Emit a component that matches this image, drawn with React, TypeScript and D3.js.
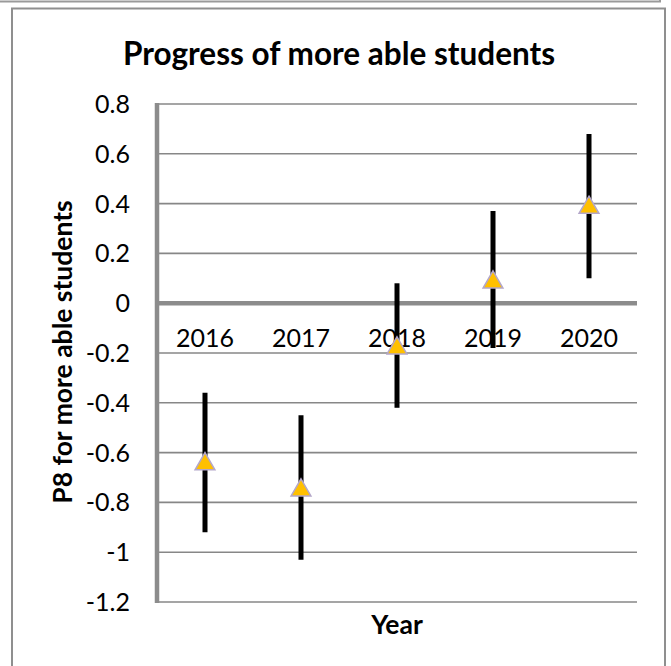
import React from "react";
import * as d3 from "d3";

const years = ["2016", "2017", "2018", "2019", "2020"];
const p8Values = [-0.64, -0.745, -0.175, 0.09, 0.39];
const lowerBounds = [-0.92, -1.03, -0.42, -0.18, 0.1];
const upperBounds = [-0.36, -0.45, 0.08, 0.37, 0.68];
const yTicks = [0.8, 0.6, 0.4, 0.2, 0, -0.2, -0.4, -0.6, -0.8, -1, -1.2];

const FONT = "Lato, 'Open Sans', sans-serif";

export default function App() {
  const W = 671;
  const H = 666;
  const x = d3.scaleBand<string>().domain(years).range([157, 637]);
  const y = d3.scaleLinear().domain([-1.2, 0.8]).range([602, 104]);
  const bw = x.bandwidth();
  const tri = d3.symbol().type(d3.symbolTriangle).size(170)();

  return (
    <svg
      width={W}
      height={H}
      style={{ position: "absolute", left: 0, top: 0, background: "#fff" }}
    >
      {/* outer frame pieces */}
      <rect x={-10} y={-100} width={670} height={101.5} fill="none" stroke="#9a9a9a" strokeWidth={2} />
      <rect x={12} y={8.5} width={653} height={700} fill="#fff" stroke="#8f8f8f" strokeWidth={2} />

      {/* title */}
      <text x={339} y={65} textAnchor="middle" fontFamily={FONT} fontWeight={700} fontSize={31.5} fill="#000">
        Progress of more able students
      </text>

      {/* gridlines */}
      {yTicks.filter((t) => t !== 0).map((t) => (
        <line key={t} x1={157} x2={637} y1={y(t)} y2={y(t)} stroke="#878787" strokeWidth={1.6} />
      ))}

      {/* y tick labels */}
      {yTicks.map((t) => (
        <text key={"l" + t} x={130} y={y(t)} dy="0.36em" textAnchor="end" fontFamily={FONT} fontSize={25} fill="#000">
          {String(t)}
        </text>
      ))}

      {/* left axis */}
      <line x1={157} x2={157} y1={y(0.8) - 1} y2={y(-1.2) + 1} stroke="#8c8c8c" strokeWidth={4.5} />

      {/* category labels */}
      {years.map((yr) => (
        <text key={"c" + yr} x={(x(yr) as number) + bw / 2} y={347} textAnchor="middle" fontFamily={FONT} fontSize={25} fill="#000">
          {yr}
        </text>
      ))}

      {/* zero axis line */}
      <line x1={157} x2={637} y1={y(0)} y2={y(0)} stroke="#8c8c8c" strokeWidth={4.5} />

      {/* error bars */}
      {years.map((yr, i) => (
        <line
          key={"e" + yr}
          x1={(x(yr) as number) + bw / 2}
          x2={(x(yr) as number) + bw / 2}
          y1={y(upperBounds[i])}
          y2={y(lowerBounds[i])}
          stroke="#000"
          strokeWidth={5}
        />
      ))}

      {/* markers */}
      {years.map((yr, i) => (
        <path
          key={"m" + yr}
          d={tri as string}
          transform={`translate(${(x(yr) as number) + bw / 2},${y(p8Values[i]) + 1.5})`}
          fill="#FFC000"
          stroke="#B4A7C9"
          strokeWidth={1.5}
        />
      ))}

      {/* y axis title */}
      <text
        transform={`translate(72,352) rotate(-90)`}
        textAnchor="middle"
        fontFamily={FONT}
        fontWeight={700}
        fontSize={26.5}
        fill="#000"
      >
        P8 for more able students
      </text>

      {/* x axis title */}
      <text x={397} y={634} textAnchor="middle" fontFamily={FONT} fontWeight={700} fontSize={26.5} fill="#000">
        Year
      </text>
    </svg>
  );
}
